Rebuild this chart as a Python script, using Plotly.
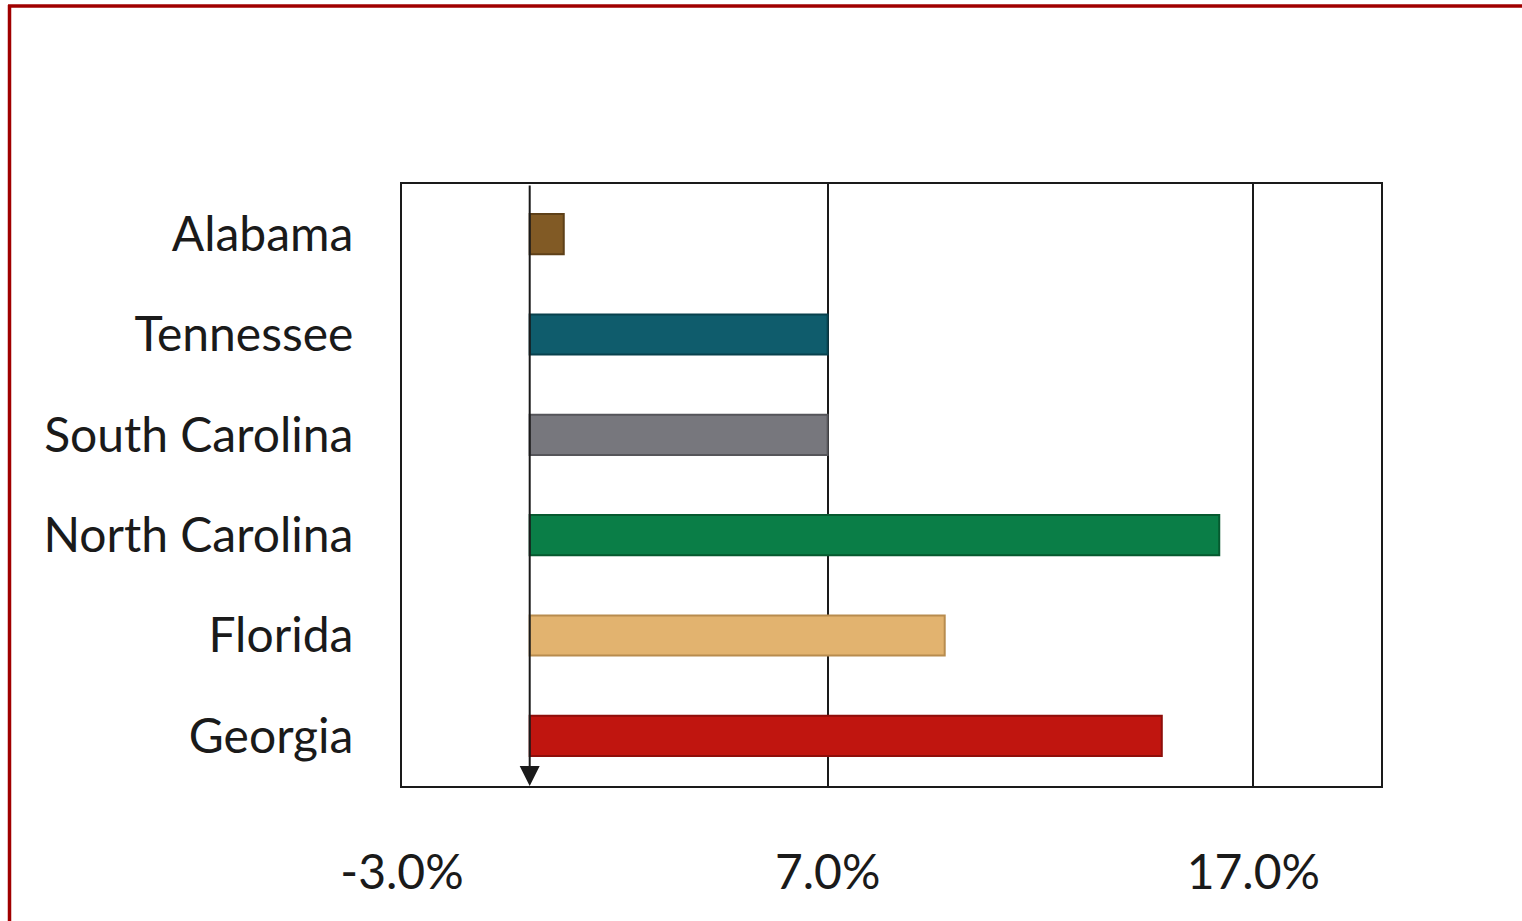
import plotly.graph_objects as go

states = ["Alabama", "Tennessee", "South Carolina", "North Carolina", "Florida", "Georgia"]
values = [0.8, 7.0, 7.0, 16.2, 9.75, 14.85]
colors = ["#815A25", "#0F5C6C", "#77777D", "#0A7E47", "#E2B36F", "#C0150F"]
edge_colors = ["#5E4018", "#08414D", "#55555A", "#06592F", "#B88C4E", "#8E0E0A"]
tick_vals = [-3, 7, 17]
tick_text = ["-3.0%", "7.0%", "17.0%"]

fig = go.Figure()
fig.add_trace(go.Bar(
    y=states, x=values, orientation="h",
    marker=dict(color=colors, line=dict(color=edge_colors, width=2)),
    width=0.4, hoverinfo="x+y",
))

W, H = 1522, 921
L, R, T, B = 402, 1381, 184, 786
pw, ph = R - L, B - T

def px2paper_x(p):
    return (p - L) / pw

def px2paper_y(p):
    return (B - p) / ph

border = "#A00000"
shapes = [
    dict(type="line", xref="paper", yref="paper",
         x0=px2paper_x(8), x1=px2paper_x(1540), y0=px2paper_y(6), y1=px2paper_y(6),
         line=dict(color=border, width=3.5)),
    dict(type="line", xref="paper", yref="paper",
         x0=px2paper_x(9.5), x1=px2paper_x(9.5), y0=px2paper_y(5), y1=px2paper_y(940),
         line=dict(color=border, width=3.5)),
]

fig.update_layout(
    width=W, height=H,
    margin=dict(l=L, r=W - R, t=T, b=H - B),
    paper_bgcolor="white", plot_bgcolor="white",
    showlegend=False,
    font=dict(family="Lato, Open Sans, sans-serif", color="#1a1a1a", size=48),
    shapes=shapes,
    xaxis=dict(
        range=[-3, 20], tickvals=tick_vals, ticktext=tick_text,
        showgrid=True, gridcolor="#1a1a1a", gridwidth=1.5,
        showline=True, linecolor="#1a1a1a", linewidth=2, mirror=True,
        zeroline=False, ticks="", ticklabelstandoff=43,
        tickfont=dict(size=48),
    ),
    yaxis=dict(
        categoryorder="array", categoryarray=states[::-1],
        showgrid=False, showline=True, linecolor="#1a1a1a", linewidth=2, mirror=True,
        zeroline=False, ticks="", ticklabelstandoff=37,
        tickfont=dict(size=48),
    ),
    annotations=[dict(
        x=0, y=0, xref="x", yref="paper", ax=0, ay=-ph, axref="pixel", ayref="pixel",
        text="", showarrow=True, arrowhead=2, arrowsize=2.0, arrowwidth=2,
        arrowcolor="#1a1a1a", standoff=0,
    )],
)

fig.write_html("out.html", config={"displayModeBar": False},
               post_script="document.body.style.margin='0px';")
